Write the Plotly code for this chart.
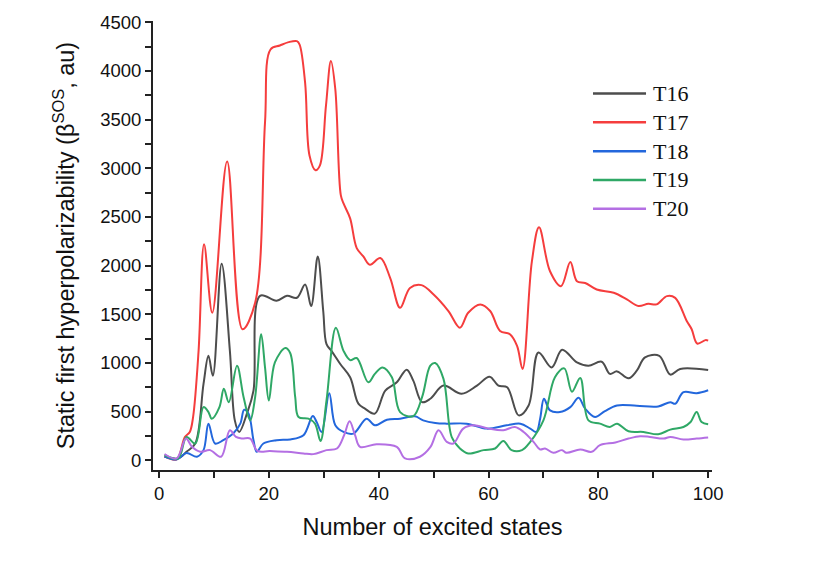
import plotly.graph_objects as go

# Static first hyperpolarizability (beta SOS) versus number of excited states
t16_x = [1, 3.5, 5, 6.6, 8.1, 9, 9.8, 11.4, 12.9, 13.8, 14.6, 16, 17.2, 18.4, 21.4, 23.3, 25.1, 26.6,
         27.7, 28.9, 29.9, 30.5, 31.4, 33, 34.8, 36.3, 37.5, 39.3, 41.2, 43.3, 45.1, 46.3, 47.9, 49.4,
         51.8, 55.1, 57.9, 60.2, 61.8, 63.4, 65.5, 67.3, 69.1, 71.5, 73.4, 76.1, 78.2, 80.6, 82.1, 83.4,
         85.5, 87, 88.5, 91.1, 93.1, 94.9, 100]
t16_y = [40, 20, 88, 173, 786, 1074, 870, 2020, 1125, 411, 292, 480, 717, 1690, 1640, 1690, 1670, 1806,
         1585, 2095, 1534, 1194, 1125, 990, 853, 582, 531, 480, 717, 802, 932, 819, 598, 633,
         768, 684, 768, 860, 768, 751, 462, 564, 1108, 955, 1136, 1006, 972, 1013, 888, 914,
         843, 921, 1057, 1074, 881, 939, 928]

t17_x = [1, 3.2, 4.7, 5.6, 6.2, 7.2, 8.2, 9.7, 12.4, 15.2, 17.5, 19.3, 20.3, 22.0, 23.6, 25.1, 25.6,
         26.6, 27.4, 28.5, 29.3, 30.4, 31.3, 32.1, 33.1, 33.6, 34.8, 36, 37.2, 38.4, 40.3, 42.1, 43.9,
         45.7, 47.8, 50, 52.7, 54.8, 56.3, 58.5, 60.3, 62.1, 63.9, 65.2, 66.2, 67.9, 69.2, 71.2, 73.2,
         74.9, 76.1, 77.6, 79.7, 82.8, 85.2, 87.3, 89.1, 90.6, 92.5, 94, 96.1, 97, 98, 99.5, 100]
t17_y = [40, 10, 240, 292, 445, 1125, 2220, 1516, 3071, 1347, 1618, 3472, 4220, 4261, 4296, 4306, 4271,
         3880, 3132, 2980, 3030, 3643, 4102, 3812, 2724, 2639, 2486, 2180, 2095, 2010, 2078, 1873, 1567,
         1771, 1800, 1704, 1534, 1363, 1516, 1602, 1534, 1330, 1296, 1177, 939, 2044, 2394, 1942, 1789,
         2037, 1840, 1822, 1755, 1721, 1653, 1585, 1608, 1602, 1687, 1669, 1432, 1347, 1200, 1235, 1230]

t18_x = [1, 3.2, 5, 6.9, 8.1, 9, 10.2, 11.7, 13.5, 14.8, 15.5, 16.3, 17.2, 17.8, 19, 21.4, 23.9, 26.3,
         28, 28.7, 29.6, 31, 32.1, 33.6, 35.4, 37.8, 39.3, 41.5, 43.9, 46.6, 48.1, 50.3, 52.4, 56, 59.7,
         63.3, 65.8, 67.6, 68.7, 69.4, 70.1, 71.2, 73, 74.9, 76.4, 77.6, 79.4, 81.2, 83.4, 87, 90.9,
         93.1, 94, 95.5, 97.9, 100]
t18_y = [40, 10, 75, 37, 105, 377, 173, 207, 275, 377, 520, 480, 207, 88, 173, 207, 215, 258,
         455, 394, 292, 690, 360, 292, 275, 428, 360, 418, 428, 452, 411, 384, 377, 377, 326,
         360, 377, 326, 292, 428, 633, 513, 496, 547, 643, 531, 445, 506, 564, 561, 554,
         598, 581, 700, 690, 720]

t19_x = [1, 3.5, 5, 6.6, 8.1, 9, 9.6, 11, 11.8, 12.7, 14.2, 15.4, 16.6, 17.5, 18.6, 19.3, 20, 21.1,
         23, 23.9, 24.8, 25.4, 27.2, 28.4, 29.4, 30.5, 32.2, 33.6, 34.8, 36, 38.1, 39.3, 40.7, 42.4,
         43.9, 46.3, 47.9, 49.4, 50.3, 51.8, 53.3, 54.8, 56.3, 59.1, 61.2, 62.7, 64.2, 66.1, 67.6, 70,
         72.1, 73.8, 75.2, 76.7, 78.2, 80.3, 82.1, 83.4, 85.5, 88.2, 90.9, 93.1, 95.5, 96.8, 97.9,
         98.8, 100]
t19_y = [55, 20, 240, 173, 547, 496, 428, 547, 735, 598, 972, 649, 411, 649, 1296, 955, 615, 1006,
         1153, 1100, 649, 445, 428, 377, 200, 615, 1363, 1125, 1030, 1051, 802, 888, 955, 853,
         496, 455, 649, 972, 1000, 837, 240, 122, 71, 105, 122, 200, 105, 105, 190, 411,
         853, 945, 705, 847, 411, 377, 343, 377, 299, 292, 268, 316, 343, 394, 496,
         394, 370]

t20_x = [1, 3.2, 4.9, 6, 7.5, 9.3, 11.3, 12.9, 14, 15.1, 16.6, 17.9, 20.2, 23.3, 26.3, 28.1, 30.5,
         32.4, 33.7, 34.7, 35.7, 36.6, 39.6, 43.3, 44.8, 47.5, 49.4, 50.9, 52.4, 53.6, 55.4, 57.3, 60,
         62.7, 64.8, 66.4, 68.2, 69.4, 70.3, 71.8, 73.4, 74.2, 76.7, 78.8, 80.3, 83.1, 85.5, 87.6,
         89.4, 91.9, 93.1, 95.5, 97.9, 100]
t20_y = [65, 20, 224, 139, 88, 105, 37, 309, 241, 224, 224, 98, 95, 88, 71, 64, 105,
         122, 258, 401, 258, 139, 166, 139, 20, 37, 135, 309, 190, 173, 326, 360, 326,
         309, 343, 292, 190, 112, 122, 78, 105, 78, 112, 88, 156, 184, 224, 248,
         241, 224, 241, 214, 224, 235]

series = [
    ("T16", t16_x, t16_y, "#4d4d4d"),
    ("T17", t17_x, t17_y, "#f53d3d"),
    ("T18", t18_x, t18_y, "#2367dc"),
    ("T19", t19_x, t19_y, "#2fa866"),
    ("T20", t20_x, t20_y, "#b46fe3"),
]

fig = go.Figure()
for name, xs, ys, color in series:
    fig.add_trace(go.Scatter(
        x=xs, y=ys, name=name, mode="lines", showlegend=False,
        line=dict(color=color, width=2, shape="spline", smoothing=1.0),
    ))

# Key drawn in the upper right of the plot area: a long line sample and a serif label per series
key_x0, key_x1, key_text_x = 0.7871, 0.8820, 0.8900   # fractions of plot width
key_top, key_step = 0.8385, 0.0642                   # fractions of plot height
for i, (name, _, _, color) in enumerate(series):
    ky = key_top - i * key_step
    fig.add_shape(type="line", xref="x domain", yref="y domain",
                  x0=key_x0, x1=key_x1, y0=ky, y1=ky,
                  line=dict(color=color, width=2.5))
    fig.add_annotation(xref="x domain", yref="y domain", x=key_text_x, y=ky,
                       xanchor="left", yanchor="middle", showarrow=False, text=name,
                       font=dict(family="Liberation Serif, Times New Roman, serif", size=22,
                                 color="#111"))

axis_font = dict(family="Liberation Sans, Arial, sans-serif", size=18.5, color="#111")
title_font = dict(family="Liberation Sans, Arial, sans-serif", size=23.5, color="#111")

fig.update_layout(
    width=821, height=568,
    margin=dict(l=153, r=109, t=18, b=98),
    paper_bgcolor="white", plot_bgcolor="white",
    showlegend=False,
    xaxis=dict(
        range=[-1.1, 100.7],
        tickmode="array", tickvals=[0, 20, 40, 60, 80, 100],
        minor=dict(tickvals=[10, 30, 50, 70, 90], ticks="outside", ticklen=6,
                   tickwidth=1.5, tickcolor="#222"),
        ticks="outside", ticklen=6, tickwidth=1.5, tickcolor="#222",
        showline=True, linecolor="#222", linewidth=1.8,
        showgrid=False, zeroline=False, tickfont=axis_font,
        title=dict(text="Number of excited states", standoff=15, font=title_font),
    ),
    yaxis=dict(
        range=[-99, 4513],
        tickmode="array", tickvals=list(range(0, 4501, 500)),
        minor=dict(tickvals=list(range(250, 4500, 500)), ticks="outside", ticklen=6,
                   tickwidth=1.5, tickcolor="#222"),
        ticks="outside", ticklen=6, tickwidth=1.5, tickcolor="#222",
        showline=True, linecolor="#222", linewidth=1.8,
        showgrid=False, zeroline=False, tickfont=axis_font,
        title=dict(text="Static first hyperpolarizability (β<sup>SOS</sup>, au)", standoff=19,
                   font=title_font),
    ),
)

fig.write_html("out.html")
